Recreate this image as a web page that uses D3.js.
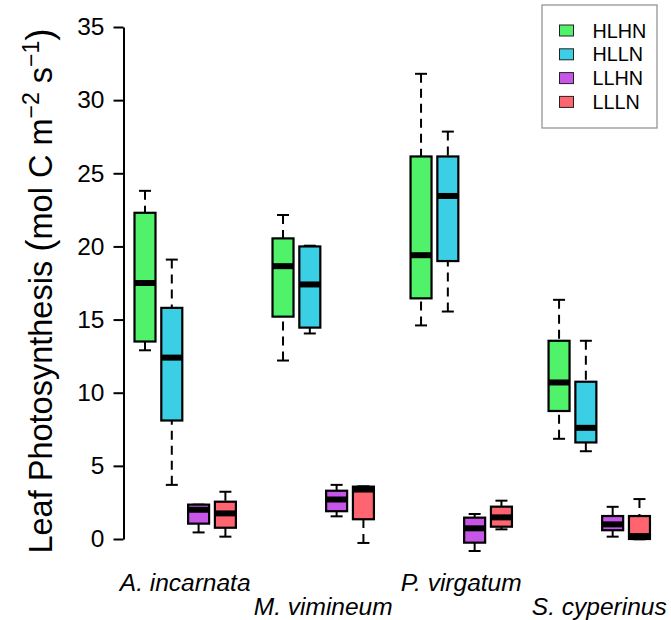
<!DOCTYPE html>
<html>
<head>
<meta charset="utf-8">
<script src="https://cdn.jsdelivr.net/npm/d3@7"></script>
<style>
  html, body { margin: 0; padding: 0; background: #fff; }
  svg { display: block; font-family: "Liberation Sans", Arial, sans-serif; }
</style>
</head>
<body>
<svg id="chart" width="671" height="620"></svg>
<script>
// ---- data (whisker low, Q1, median, Q3, whisker high) ----
const species = ["A. incarnata", "M. vimineum", "P. virgatum", "S. cyperinus"];
const treatments = ["HLHN", "HLLN", "LLHN", "LLLN"];
const colors = ["#50F26A", "#3BCFE6", "#C655E8", "#FF6570"];
const hlhn = [[12.9, 13.5, 17.5, 22.3, 23.8], [12.2, 15.2, 18.65, 20.55, 22.15], [14.6, 16.45, 19.4, 26.15, 31.8], [6.85, 8.75, 10.7, 13.55, 16.35]];
const hlln = [[3.7, 8.1, 12.4, 15.8, 19.1], [14.05, 14.45, 17.4, 20.0, 20.05], [15.55, 19.0, 23.45, 26.15, 27.85], [6.0, 6.6, 7.6, 10.75, 13.55]];
const llhn = [[0.45, 1.05, 2.0, 2.35, 2.35], [1.55, 1.9, 2.7, 3.3, 3.7], [-0.82, -0.25, 0.73, 1.46, 1.71], [0.16, 0.6, 1.0, 1.57, 2.2]];
const llln = [[0.16, 0.77, 1.75, 2.55, 3.23], [-0.27, 1.35, 3.38, 3.58, 3.6], [0.66, 0.84, 1.48, 2.21, 2.62], [-0.02, 0.0, 0.2, 1.57, 2.73]];
const yTicks = [0, 5, 10, 15, 20, 25, 30, 35];

const seriesStats = [hlhn, hlln, llhn, llln];

const svg = d3.select("#chart");
svg.append("rect").attr("width", 671).attr("height", 620).attr("fill", "#fff");

// ---- scales ----
const groupStep = 5.15;
const y = d3.scaleLinear().domain([0, 35]).range([539, 27]);
const x = d3.scaleLinear().domain([0, 1]).range([145, 171.8]); // one box-position unit
const boxW = 21;
const capW = 12;

// ---- boxes ----
const boxes = [];
species.forEach((sp, g) => {
  treatments.forEach((tr, t) => {
    const s = seriesStats[t][g];
    boxes.push({ g, t, pos: g * groupStep + t, lo: s[0], q1: s[1], med: s[2], q3: s[3], hi: s[4], color: colors[t] });
  });
});

const bg = svg.append("g").selectAll("g").data(boxes).join("g");

// whiskers (dashed), drawn from whisker end to box edge
bg.append("line")
  .attr("x1", d => x(d.pos)).attr("x2", d => x(d.pos))
  .attr("y1", d => y(d.hi)).attr("y2", d => y(d.q3))
  .attr("stroke", "#000").attr("stroke-width", 2).attr("stroke-dasharray", "9,6");
bg.append("line")
  .attr("x1", d => x(d.pos)).attr("x2", d => x(d.pos))
  .attr("y1", d => y(d.lo)).attr("y2", d => y(d.q1))
  .attr("stroke", "#000").attr("stroke-width", 2).attr("stroke-dasharray", "9,6");
// caps
bg.append("line")
  .attr("x1", d => x(d.pos) - capW / 2).attr("x2", d => x(d.pos) + capW / 2)
  .attr("y1", d => y(d.hi)).attr("y2", d => y(d.hi))
  .attr("stroke", "#000").attr("stroke-width", 2);
bg.append("line")
  .attr("x1", d => x(d.pos) - capW / 2).attr("x2", d => x(d.pos) + capW / 2)
  .attr("y1", d => y(d.lo)).attr("y2", d => y(d.lo))
  .attr("stroke", "#000").attr("stroke-width", 2);
// box
bg.append("rect")
  .attr("x", d => x(d.pos) - boxW / 2).attr("width", boxW)
  .attr("y", d => y(d.q3)).attr("height", d => Math.max(0.5, y(d.q1) - y(d.q3)))
  .attr("fill", d => d.color).attr("stroke", "#000").attr("stroke-width", 2.2);
// median
bg.append("line")
  .attr("x1", d => x(d.pos) - boxW / 2).attr("x2", d => x(d.pos) + boxW / 2)
  .attr("y1", d => y(d.med)).attr("y2", d => y(d.med))
  .attr("stroke", "#000").attr("stroke-width", 6);

// ---- y axis ----
const yAxis = d3.axisLeft(y).tickValues(yTicks).tickSizeInner(10).tickSizeOuter(0).tickPadding(9);
const ag = svg.append("g").attr("transform", "translate(123.5,0)").call(yAxis);
ag.select(".domain").attr("stroke", "#000").attr("stroke-width", 2);
ag.selectAll(".tick line").attr("stroke", "#000").attr("stroke-width", 2);
ag.selectAll(".tick text").attr("fill", "#000")
  .style("font-family", "'Liberation Sans', Arial, sans-serif").style("font-size", "24.5px");

// ---- y label ----
const yl = svg.append("text")
  .attr("transform", "translate(52,291) rotate(-90)")
  .attr("text-anchor", "middle")
  .style("font-size", "32.5px").attr("fill", "#000");
yl.append("tspan").text("Leaf Photosynthesis ");
yl.append("tspan").text("(").style("font-size", "37px");
yl.append("tspan").text("mol C m").style("font-size", "32.5px");
yl.append("tspan").text("\u22122").attr("dy", "-0.55em").style("font-size", "23px");
yl.append("tspan").text(" s").attr("dy", "0.39em").style("font-size", "32.5px");
yl.append("tspan").text("\u22121").attr("dy", "-0.55em").style("font-size", "23px");
yl.append("tspan").text(")").attr("dy", "0.34em").style("font-size", "37px");

// ---- x category labels (staggered) ----
svg.append("g").selectAll("text").data(species).join("text")
  .attr("x", (d, i) => x(i * groupStep + 1.5))
  .attr("y", (d, i) => i % 2 === 0 ? 591 : 615)
  .attr("text-anchor", "middle")
  .style("font-size", "24.5px").style("font-style", "italic")
  .attr("fill", "#000")
  .text(d => d);

// ---- legend ----
const lg = svg.append("g");
lg.append("rect").attr("x", 542).attr("y", 5).attr("width", 115).attr("height", 123)
  .attr("fill", "#fff").attr("stroke", "#8c8c8c").attr("stroke-width", 1.2);
const li = lg.selectAll("g.item").data(treatments).join("g").attr("class", "item")
  .attr("transform", (d, i) => `translate(0,${30.5 + i * 23.8})`);
li.append("rect").attr("x", 559.5).attr("y", -5.5).attr("width", 14).attr("height", 11)
  .attr("fill", (d, i) => colors[i]).attr("stroke", "#222").attr("stroke-width", 1);
li.append("text").attr("x", 592.5).attr("y", 0).attr("dy", "0.36em")
  .style("font-size", "19.8px").attr("fill", "#000").text(d => d);
</script>
</body>
</html>
